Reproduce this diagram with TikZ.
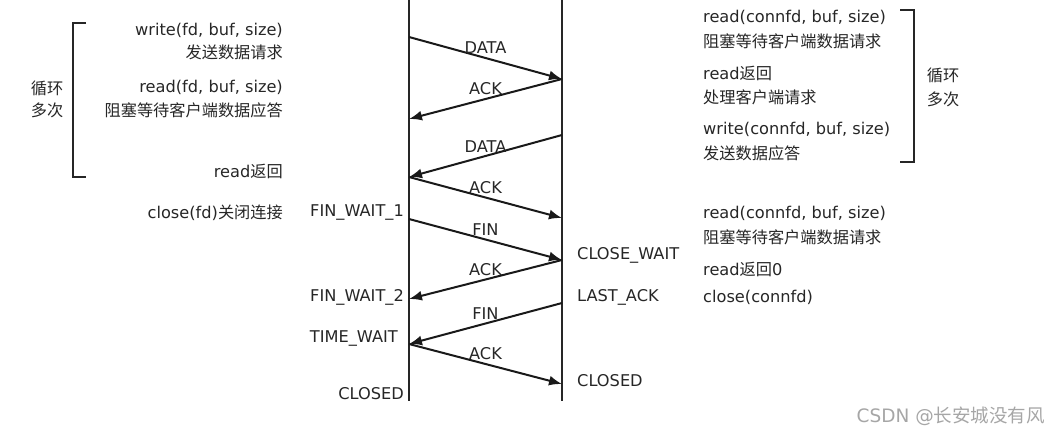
\documentclass[tikz,border=0pt]{standalone}
\usepackage{fontspec}
\setmainfont{DejaVu Sans}
\newfontfamily\cjk{Noto Sans CJK SC}
\usetikzlibrary{arrows.meta}
\newcommand{\zh}[1]{{\cjk #1}}
\begin{document}
\begin{tikzpicture}[
    x=1pt,y=-1pt,
    every node/.style={font=\fontsize{16.2}{18}\selectfont,text=black!85,inner sep=1pt},
    msg/.style={line width=2pt,draw=black!90,-{Latex[length=13pt,width=10pt]}},
    lifeline/.style={line width=2.6pt,draw=black!85},
    bracket/.style={line width=2pt,draw=black!85},
    wmark/.style={text=black!35,font=\fontsize{18.5}{20}\selectfont}]
    \useasboundingbox (0,0) rectangle (1052,436);
    % lifelines
    \coordinate (ctop) at (409,0);
    \coordinate (cbot) at (409,401);
    \coordinate (stop) at (562,0);
    \coordinate (sbot) at (562,401);
    \draw[lifeline] (ctop) -- (cbot);
    \draw[lifeline] (stop) -- (sbot);
    % message ends
    \coordinate (c1) at (409,37);
    \coordinate (c2) at (409,119);
    \coordinate (c3) at (409,177);
    \coordinate (c4) at (409,219);
    \coordinate (c5) at (409,299);
    \coordinate (c6) at (409,344);
    \coordinate (s1) at (562,79);
    \coordinate (s2) at (562,135);
    \coordinate (s3) at (562,218);
    \coordinate (s4) at (562,260);
    \coordinate (s5) at (562,303);
    \coordinate (s6) at (562,384);
    \draw[msg] (c1) -- node[above=2pt] (m1) {DATA} (s1);
    \draw[msg] (s1) -- node[above=2pt] (m2) {ACK} (c2);
    \draw[msg] (s2) -- node[above=2pt] (m3) {DATA} (c3);
    \draw[msg] (c3) -- node[above=2pt] (m4) {ACK} (s3);
    \draw[msg] (c4) -- node[above=2pt] (m5) {FIN} (s4);
    \draw[msg] (s4) -- node[above=2pt] (m6) {ACK} (c5);
    \draw[msg] (s5) -- node[above=2pt] (m7) {FIN} (c6);
    \draw[msg] (c6) -- node[above=2pt] (m8) {ACK} (s6);
    % client side
    \draw[bracket] (86,23) -- (73,23) -- (73,177) -- (86,177);
    \node (cl1) at (47,88) {\zh{循环}};
    \node (cl2) at (47,110) {\zh{多次}};
    \node[anchor=east] (cw1) at (284,30) {write(fd, buf, size)};
    \node[anchor=east] (cw2) at (284,52) {\zh{发送数据请求}};
    \node[anchor=east] (cr1) at (284,87) {read(fd, buf, size)};
    \node[anchor=east] (cr2) at (284,110) {\zh{阻塞等待客户端数据应答}};
    \node[anchor=east] (cr3) at (284,171) {read\zh{返回}};
    \node[anchor=east] (cc1) at (284,213) {close(fd)\zh{关闭连接}};
    \node[anchor=east] (fw1) at (405,213) {FIN\_WAIT\_1};
    \node[anchor=east] (fw2) at (405,297) {FIN\_WAIT\_2};
    \node[anchor=east] (tw) at (399,339) {TIME\_WAIT};
    \node[anchor=east] (ccl) at (405,394) {CLOSED};
    % server side
    \node[anchor=west] (sr1) at (576,255) {CLOSE\_WAIT};
    \node[anchor=west] (sla) at (576,297) {LAST\_ACK};
    \node[anchor=west] (scl) at (576,381) {CLOSED};
    \draw[bracket] (900,10) -- (914,10) -- (914,162) -- (900,162);
    \node (sl1) at (943,75) {\zh{循环}};
    \node (sl2) at (943,99) {\zh{多次}};
    \node[anchor=west] (sd1) at (702,17) {read(connfd, buf, size)};
    \node[anchor=west] (sd2) at (702,41) {\zh{阻塞等待客户端数据请求}};
    \node[anchor=west] (sd3) at (702,73) {read\zh{返回}};
    \node[anchor=west] (sd4) at (702,97) {\zh{处理客户端请求}};
    \node[anchor=west] (sd5) at (702,129) {write(connfd, buf, size)};
    \node[anchor=west] (sd6) at (702,153) {\zh{发送数据应答}};
    \node[anchor=west] (se1) at (702,213) {read(connfd, buf, size)};
    \node[anchor=west] (se2) at (702,237) {\zh{阻塞等待客户端数据请求}};
    \node[anchor=west] (se3) at (702,269) {read\zh{返回}0};
    \node[anchor=west] (se4) at (702,297) {close(connfd)};
    \node[wmark,anchor=east] (wm) at (1046,416) {CSDN @\zh{长安城没有风}};
\end{tikzpicture}
\end{document}
